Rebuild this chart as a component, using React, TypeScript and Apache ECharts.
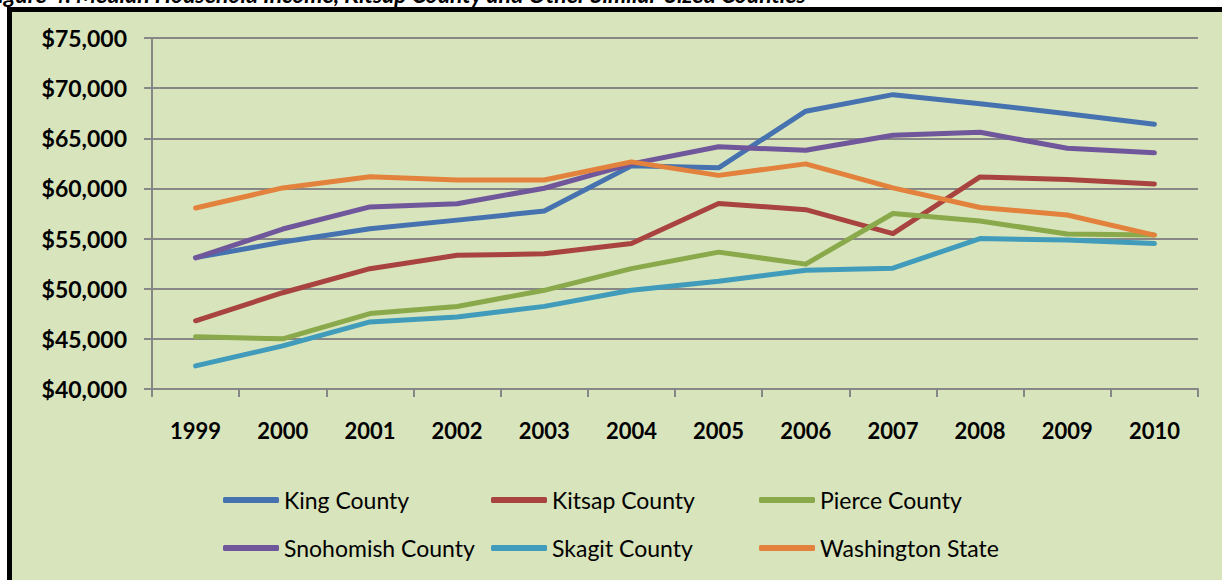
import React, { useEffect, useRef } from "react";
import * as echarts from "echarts";

const years = ["1999", "2000", "2001", "2002", "2003", "2004", "2005", "2006", "2007", "2008", "2009", "2010"];
const king = [53100, 54650, 55980, 56840, 57740, 62250, 62050, 67700, 69350, 68450, 67450, 66400];
const kitsap = [46800, 49600, 52000, 53330, 53480, 54500, 58500, 57880, 55500, 61150, 60900, 60450];
const pierce = [45200, 45000, 47520, 48230, 49840, 52000, 53650, 52450, 57500, 56750, 55450, 55350];
const snohomish = [53080, 55950, 58160, 58480, 60020, 62450, 64150, 63800, 65300, 65600, 64000, 63550];
const skagit = [42300, 44300, 46690, 47180, 48240, 49850, 50750, 51850, 52050, 55000, 54850, 54500];
const washington = [58050, 60050, 61160, 60840, 60840, 62650, 61300, 62450, 60050, 58100, 57350, 55350];

const seriesNames = ["King County", "Kitsap County", "Pierce County", "Snohomish County", "Skagit County", "Washington State"];
const seriesValues = [king, kitsap, pierce, snohomish, skagit, washington];
const seriesColors = ["#4673B0", "#A94340", "#89A94A", "#70569A", "#409CBA", "#E2823C"];
const legendColumns = [
  ["King County", "Snohomish County"],
  ["Kitsap County", "Skagit County"],
  ["Pierce County", "Washington State"],
];
const titleText = "Figure 4: Median Household Income, Kitsap County and Other Similar-Sized Counties";

const FONT = "Lato, 'Noto Sans', sans-serif";
const GRID_COLOR = "#878787";

export default function App() {
  const ref = useRef<HTMLDivElement>(null);
  useEffect(() => {
    if (!ref.current) return;
    document.body.style.margin = "0";
    const chart = echarts.init(ref.current, undefined, { renderer: "svg" });
    chart.setOption({
      animation: false,
      backgroundColor: "#ffffff",
      graphic: [
        {
          type: "rect",
          z: -100,
          silent: true,
          shape: { x: 9.5, y: 9.5, width: 1400, height: 800 },
          style: { fill: "#D8E4BC", stroke: "#000000", lineWidth: 5 },
        },
        {
          type: "text",
          z: -90,
          silent: true,
          x: -14,
          y: 5,
          style: {
            text: titleText,
            font: "italic bold 23px " + FONT,
            fill: "#000000",
            verticalAlign: "bottom",
            align: "left",
          },
        },
      ],
      grid: { left: 152, right: 24, top: 38, bottom: 191, containLabel: false },
      xAxis: {
        type: "category",
        data: years,
        boundaryGap: true,
        axisLine: { show: true, lineStyle: { color: GRID_COLOR, width: 2 } },
        axisTick: { show: true, alignWithLabel: false, length: 8, lineStyle: { color: GRID_COLOR, width: 2 } },
        axisLabel: { margin: 30, color: "#000", fontFamily: FONT, fontWeight: "bold", fontSize: 22 },
        splitLine: { show: false },
      },
      yAxis: {
        type: "value",
        min: 40000,
        max: 75000,
        interval: 5000,
        axisLine: { show: true, lineStyle: { color: GRID_COLOR, width: 2 } },
        axisTick: { show: true, length: 8, lineStyle: { color: GRID_COLOR, width: 2 } },
        axisLabel: {
          margin: 25,
          color: "#000",
          fontFamily: FONT,
          fontWeight: "bold",
          fontSize: 23,
          formatter: (v: number) => "$" + v.toLocaleString("en-US"),
        },
        splitLine: { show: true, lineStyle: { color: GRID_COLOR, width: 2 } },
      },
      legend: legendColumns.map((names, i) => ({
        data: names,
        orient: "vertical",
        left: 223 + i * 268,
        top: 487,
        padding: 0,
        itemWidth: 56,
        itemHeight: 6,
        itemGap: 22,
        icon: "roundRect",
        selectedMode: false,
        textStyle: { fontFamily: FONT, fontSize: 23, lineHeight: 26, color: "#000" },
      })),
      series: seriesNames.map((name, i) => ({
        name,
        type: "line",
        data: seriesValues[i],
        showSymbol: false,
        symbol: "none",
        color: seriesColors[i],
        itemStyle: { color: seriesColors[i] },
        lineStyle: { width: 5, color: seriesColors[i], cap: "round", join: "round" },
        emphasis: { disabled: true },
        z: 2 + i,
      })),
    });
    return () => chart.dispose();
  }, []);
  return (
    <div
      ref={ref}
      style={{ position: "fixed", left: 0, top: 0, width: 1222, height: 580 }}
    />
  );
}
